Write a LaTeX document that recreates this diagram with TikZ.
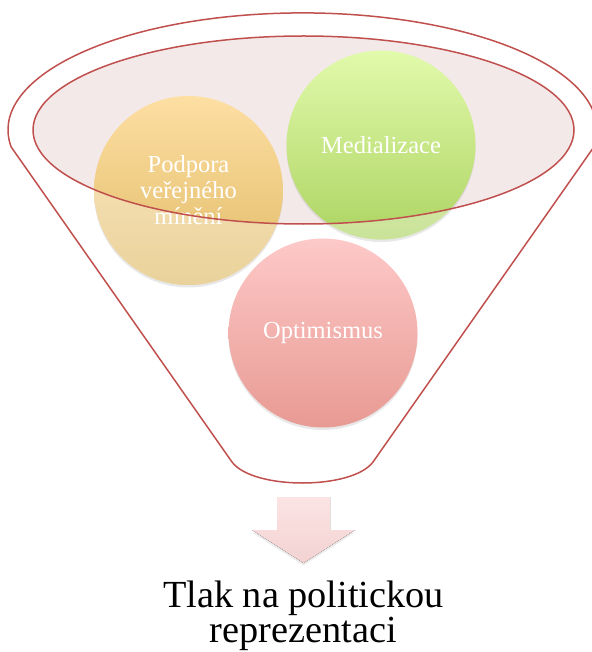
\documentclass[tikz,border=0pt]{standalone}
\usepackage{fontspec}
\setmainfont{Liberation Serif}
\usetikzlibrary{shadows}
\definecolor{funnelred}{HTML}{C0504D}
\definecolor{innerpink}{HTML}{F4E9E9}
\definecolor{podtop}{HTML}{FEDFA3}
\definecolor{podbot}{HTML}{DFBA66}
\definecolor{medtop}{HTML}{E2FAAC}
\definecolor{medbot}{HTML}{ADD462}
\definecolor{opttop}{HTML}{FDC9C8}
\definecolor{optbot}{HTML}{E89A93}
\definecolor{arrtop}{HTML}{FCE4E4}
\definecolor{arrbot}{HTML}{F3D2D2}
\tikzset{
  funnelline/.style={draw=funnelred, line width=1.5pt, line join=round},
  bubble/.style={circle, minimum size=189pt, inner sep=0pt, text=white, align=center,
    font=\fontsize{24.5}{26}\selectfont,
    drop shadow={shadow xshift=0pt, shadow yshift=-2.5pt, opacity=0.18}},
  paler/.style={white, opacity=0.35, even odd rule},
  resulttext/.style={inner sep=0pt, align=center, font=\fontsize{38.3}{32}\selectfont, text=black}
}
\begin{document}
\begin{tikzpicture}[x=1pt,y=1pt]
\useasboundingbox (0,0) rectangle (591,-652);
% outer funnel outline
\draw[funnelline] (11.2,-147) arc[start angle=188.4, end angle=-8.4, x radius=294.5pt, y radius=117pt]
  -- (373,-462) .. controls (352,-490) and (253,-490) .. (232,-462) -- cycle;
% inner ellipse fill
\fill[innerpink] (303.5,-130) ellipse[x radius=270.5pt, y radius=94pt];
% bubbles
\node[bubble, top color=podtop, bottom color=podbot] (pod) at (188.5,-190.5) {Podpora\\veřejného\\mínění};
\node[bubble, top color=medtop, bottom color=medbot] (med) at (381,-145) {Medializace};
\node[bubble, top color=opttop, bottom color=optbot] (opt) at (323,-333) {Optimismus};
% paler parts outside the inner ellipse
\begin{scope}
  \clip (pod.center) circle[radius=94.5pt];
  \fill[paler] (0,0) rectangle (591,-652) (303.5,-130) ellipse[x radius=270.5pt, y radius=94pt];
\end{scope}
\begin{scope}
  \clip (med.center) circle[radius=94.5pt];
  \fill[paler] (0,0) rectangle (591,-652) (303.5,-130) ellipse[x radius=270.5pt, y radius=94pt];
\end{scope}
% inner ellipse outline
\draw[funnelline] (303.5,-130) ellipse[x radius=270.5pt, y radius=94pt];
% down arrow
\fill[top color=arrtop, bottom color=arrbot, drop shadow={shadow xshift=0pt, shadow yshift=-2.5pt, opacity=0.15}]
  (277,-497) -- (330,-497) -- (330,-530) -- (355,-530) -- (303.5,-563) -- (252,-530) -- (277,-530) -- cycle;
% result text
\node[resulttext] (result) at (303.5,-616) {Tlak na politickou\\reprezentaci};
\end{tikzpicture}
\end{document}
